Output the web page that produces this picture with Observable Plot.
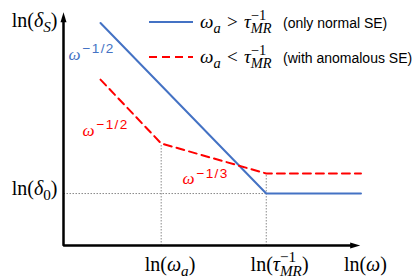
<!DOCTYPE html>
<html><head><meta charset="utf-8">
<script src="https://cdn.jsdelivr.net/npm/d3@7"></script>
<script src="https://cdn.jsdelivr.net/npm/@observablehq/plot@0.6"></script>
<style>
body{margin:0;background:#fff;}
#wrap{position:relative;width:415px;height:278px;}
</style></head><body><div id="wrap"></div>
<script>
// ---- data (x = ln(ω), y = ln(δ), arbitrary units) ----
const normalX = [1.25, 6.85, 10.05];
const normalY = [9.55, 2.23, 2.23];
const anomX = [1.25, 3.3, 6.85, 10.05];
const anomY = [7.12, 4.38, 3.09, 3.09];
const lnOmegaA = 3.3;
const lnTauInv = 6.85;
const lnDelta0 = 2.23;
const xTickLabels = ["ln(ω_{a})", "ln(τ_{MR}^{−1})", "ln(ω)"];
const xTickPos = [3.6, 7.3, 10.2];
const yTickLabels = ["ln(δ_{0})", "ln(δ_{S})"];
const yTickPos = [lnDelta0, 9.4];
const annotLabels = ["ω^{−1/2}", "ω^{−1/2}", "ω^{−1/3}"];
const annotX = [0.17, 0.64, 4.02];
const annotY = [7.98, 4.72, 2.62];
const annotColors = ["#4472C4", "#FF0000", "#FF0000"];
const legendMath = ["ω_{a}\u2004>\u2004τ_{MR}^{−1}", "ω_{a}\u2004<\u2004τ_{MR}^{−1}"];
const legendNote = ["(only normal SE)", "(with anomalous SE)"];
const legendColors = ["#4472C4", "#FF0000"];
const legendDash = [null, "8,5"];

const normal = normalX.map((x, i) => ({x, y: normalY[i]}));
const anom = anomX.map((x, i) => ({x, y: anomY[i]}));
const guides = [
  {x1: 0, y1: lnDelta0, x2: lnTauInv, y2: lnDelta0},
  {x1: lnOmegaA, y1: 0, x2: lnOmegaA, y2: anomY[1]},
  {x1: lnTauInv, y1: 0, x2: lnTauInv, y2: anomY[2]}
];
const axisPath = [{x: 0, y: 9.62}, {x: 0, y: 0}, {x: 9.72, y: 0}];
const arrowHeads = [{x: 0, y: 9.62, r: 0}, {x: 9.72, y: 0, r: 90}];
const xTicks = xTickLabels.map((t, i) => ({t, x: xTickPos[i]}));
const yTicks = yTickLabels.map((t, i) => ({t, y: yTickPos[i]}));
const annots = annotLabels.map((t, i) => ({t, x: annotX[i], y: annotY[i], c: annotColors[i]}));

const arrowSymbol = {draw(ctx) { ctx.moveTo(0, -9); ctx.lineTo(3, 1); ctx.lineTo(-3, 1); ctx.closePath(); }};
const SERIF = "'Liberation Serif', 'DejaVu Serif', serif";
const SANS = "'Liberation Sans', Arial, sans-serif";

const plot = Plot.plot({
  width: 415, height: 278,
  marginLeft: 63, marginRight: 56, marginTop: 12, marginBottom: 33,
  x: {domain: [0, 10], axis: null},
  y: {domain: [0, 10], axis: null},
  style: {background: "white", overflow: "visible"},
  marks: [
    Plot.link(guides, {x1: "x1", y1: "y1", x2: "x2", y2: "y2", stroke: "#8a8a8a", strokeWidth: 1, strokeDasharray: "1.5,1.5"}),
    Plot.line(normal, {x: "x", y: "y", stroke: "#4472C4", strokeWidth: 2, curve: "linear"}),
    Plot.line(anom, {x: "x", y: "y", stroke: "#FF0000", strokeWidth: 2, strokeDasharray: "8,5"}),
    Plot.line(axisPath, {x: "x", y: "y", stroke: "black", strokeWidth: 2.5, strokeLinejoin: "miter"}),
    Plot.dot(arrowHeads, {x: "x", y: "y", rotate: "r", symbol: arrowSymbol, fill: "black", stroke: "none"}),
    Plot.text(xTicks, {x: "x", y: 0, text: "t", dy: 25, lineAnchor: "bottom", textAnchor: "middle", fontSize: 20, fontFamily: SERIF, fill: "black"}),
    Plot.text(yTicks, {x: 0, y: "y", text: "t", dx: -6, dy: 1, lineAnchor: "bottom", textAnchor: "end", fontSize: 20, fontFamily: SERIF, fill: "black"}),
    Plot.text(annots, {x: "x", y: "y", text: "t", fill: "c", lineAnchor: "bottom", textAnchor: "start", fontSize: 17, fontFamily: SERIF})
  ]
});
const wrap = document.getElementById("wrap");
wrap.appendChild(plot);
const svg = d3.select(plot);

// legend
const lg = svg.append("g").attr("class", "legend").attr("text-anchor", "start");
legendMath.forEach((m, i) => {
  const yl = 22 + i * 35;
  lg.append("line").attr("x1", 149).attr("x2", 193).attr("y1", yl).attr("y2", yl)
    .attr("stroke", legendColors[i]).attr("stroke-width", 2)
    .attr("stroke-dasharray", legendDash[i]);
  lg.append("text").attr("x", 200).attr("y", yl + 6).attr("font-family", SERIF)
    .attr("text-anchor", "start")
    .attr("font-size", 19).attr("fill", "black").text(m);
  lg.append("text").attr("x", 283).attr("y", yl + 6).attr("font-family", SANS)
    .attr("text-anchor", "start")
    .attr("font-size", 14).attr("fill", "black").text(legendNote[i]);
});

// rich text (sub/superscripts, italic math letters)
function parseRich(s) {
  const segs = []; let i = 0, buf = "";
  const flush = () => { if (buf) { segs.push({t: buf, k: "base"}); buf = ""; } };
  while (i < s.length) {
    const c = s[i];
    if ((c === "_" || c === "^") && s[i + 1] === "{") {
      flush();
      const j = s.indexOf("}", i);
      segs.push({t: s.slice(i + 2, j), k: c === "_" ? "sub" : "sup"});
      i = j + 1;
    } else { buf += c; i++; }
  }
  flush();
  return segs;
}
function runsOf(seg) {
  const runs = [];
  for (const ch of seg.t) {
    const greek = /[α-ω]/.test(ch);
    const latin = /[A-Za-z]/.test(ch);
    const italic = greek || (seg.k === "sub" && latin);
    const last = runs[runs.length - 1];
    if (last && last.italic === italic) last.t += ch; else runs.push({t: ch, italic});
  }
  return runs;
}
function richify(el) {
  const s = el.textContent;
  if (!/[_^]\{/.test(s) && !/[α-ω]/.test(s)) return;
  const fs = parseFloat(el.getAttribute("font-size") || getComputedStyle(el).fontSize);
  el.textContent = "";
  const segs = parseRich(s);
  let shift = 0, pendingDx = 0, lastSubLen = 0, prevKind = null;
  for (const seg of segs) {
    const sans = seg.k === "sup" && seg.t.includes("/");
    const target = seg.k === "sub" ? 0.25 * fs : seg.k === "sup" ? (sans ? -0.36 * fs : -0.42 * fs) : 0;
    const size = seg.k === "base" ? fs : sans ? 0.8 * fs : 0.76 * fs;
    const stacked = seg.k === "sup" && prevKind === "sub";
    let dxFirst = stacked ? -lastSubLen : pendingDx;
    if (sans) dxFirst += 2;
    pendingDx = 0;
    let first = true, segLen = 0;
    for (const r of runsOf(seg)) {
      const ts = d3.select(el).append("tspan").text(r.t)
        .attr("font-size", size).attr("font-style", r.italic ? "italic" : "normal");
      if (sans) ts.attr("font-family", SANS).attr("letter-spacing", 1.3);
      if (first) {
        const dy = target - shift;
        if (dy) ts.attr("dy", dy);
        if (dxFirst) ts.attr("dx", dxFirst);
        shift = target; first = false;
      }
      segLen += ts.node().getComputedTextLength();
    }
    if (stacked && segLen < lastSubLen) pendingDx = lastSubLen - segLen;
    if (seg.k === "sub") lastSubLen = segLen;
    prevKind = seg.k;
  }
}
svg.selectAll("text").each(function() {
  if (!this.getAttribute("font-size")) {
    const fsz = getComputedStyle(this).fontSize;
    this.setAttribute("font-size", parseFloat(fsz));
  }
  richify(this);
});
</script></body></html>
